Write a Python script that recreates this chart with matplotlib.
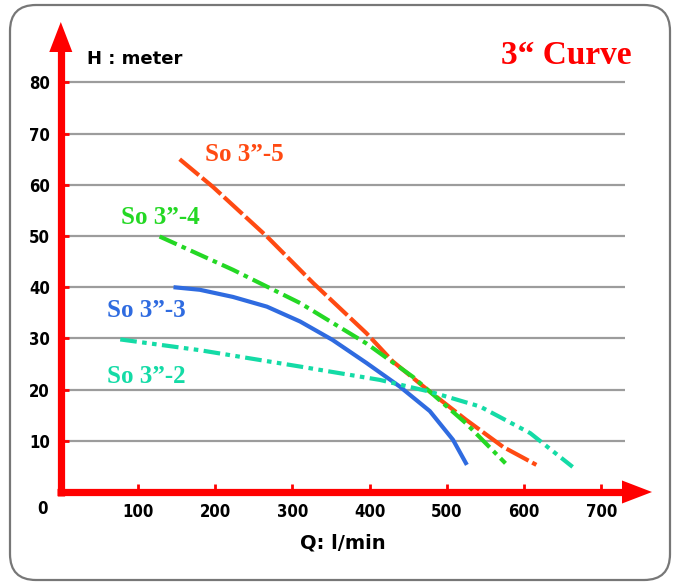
import matplotlib
matplotlib.use("Agg")
import matplotlib.pyplot as plt
from matplotlib.patches import FancyBboxPatch, FancyArrowPatch
from matplotlib.transforms import IdentityTransform

# ---------------- data ----------------
series_names = ["So 3\u201d-5", "So 3\u201d-4", "So 3\u201d-3", "So 3\u201d-2"]

q_so5 = [154, 197, 267, 327, 396, 430, 478, 525, 573, 616]
h_so5 = [65.0, 59.6, 49.9, 40.8, 31.0, 25.5, 19.6, 14.1, 8.8, 5.3]

q_so4 = [128, 223, 310, 396, 456, 478, 525, 576]
h_so4 = [49.9, 43.4, 36.9, 29.0, 22.5, 19.6, 13.4, 5.6]

q_so3 = [146, 180, 223, 267, 310, 352, 396, 439, 478, 508, 526]
h_so3 = [40.0, 39.5, 38.1, 36.2, 33.3, 29.7, 25.2, 20.6, 15.8, 10.2, 5.3]

q_so2 = [77, 180, 310, 413, 478, 543, 608, 663]
h_so2 = [29.8, 27.7, 24.5, 21.9, 19.6, 16.7, 11.5, 4.9]

x_ticks = [100, 200, 300, 400, 500, 600, 700]
y_ticks = [10, 20, 30, 40, 50, 60, 70, 80]

title_text = "3\u201c Curve"
y_title = "H : meter"
x_title = "Q: l/min"

# ---------------- styles / layout ----------------
colors = ["#ff4a12", "#24d824", "#2f6be0", "#14dba6"]
dash_styles = [(0, (6, 1.0)),
               (0, (4.5, 1.3, 1.1, 1.3)),
               "solid",
               (0, (4.0, 1.3, 1.1, 1.3, 1.1, 1.3))]
label_pos = [(187, 66.0), (77.5, 53.7), (59.5, 35.5), (60, 22.5)]

W, H = 675, 585
fig = plt.figure(figsize=(W / 100, H / 100), dpi=100)

# rounded border
border = FancyBboxPatch((10, 5), 660, 575, boxstyle="round,pad=0,rounding_size=26",
                        transform=IdentityTransform(), facecolor="none",
                        edgecolor="#777777", linewidth=1.6, zorder=-1)
fig.patches.append(border)

x0_px, y0_px = 60.8, 492.0
px_per_q, px_per_h = 0.772, 5.12
xmax = (652 - x0_px) / px_per_q
ymax = (y0_px - 22) / px_per_h
ax = fig.add_axes([x0_px / W, (H - y0_px) / H, (652 - x0_px) / W, (y0_px - 22) / H])
ax.set_xlim(0, xmax)
ax.set_ylim(0, ymax)
ax.patch.set_visible(False)
for s in ax.spines.values():
    s.set_visible(False)

# grid lines
ax.hlines(y_ticks, (65 - x0_px) / px_per_q, (625 - x0_px) / px_per_q,
          color="#9c9c9c", linewidth=1.6, zorder=1)

# curves
all_q = [q_so5, q_so4, q_so3, q_so2]
all_h = [h_so5, h_so4, h_so3, h_so2]
for q, h, c, ls in zip(all_q, all_h, colors, dash_styles):
    ax.plot(q, h, color=c, linewidth=3.0, linestyle=ls,
            dash_capstyle="butt", solid_capstyle="butt", zorder=3)

for name, c, (lx, ly) in zip(series_names, colors, label_pos):
    ax.text(lx, ly, name, color=c, fontsize=18, fontweight="bold",
            family=["Liberation Serif", "DejaVu Serif"], ha="left", va="center", zorder=4)

# red axes: shafts + filled heads
red = "#ff0000"
head_base_y = (y0_px - 52) / px_per_h
head_base_x = (622 - x0_px) / px_per_q
ax.plot([0, 0], [-0.7, head_base_y + 0.5], color=red, linewidth=5.2,
        solid_capstyle="butt", clip_on=False, zorder=5)
ax.plot([-5.0, head_base_x + 1], [0, 0], color=red, linewidth=5.2,
        solid_capstyle="butt", clip_on=False, zorder=5)
ax.add_patch(FancyArrowPatch((0, head_base_y - 2), (0, ymax),
                             arrowstyle="-|>,head_length=21.6,head_width=8.3",
                             mutation_scale=1, color=red, linewidth=0, shrinkA=0, shrinkB=0,
                             clip_on=False, zorder=5))
ax.add_patch(FancyArrowPatch((head_base_x - 10, 0), (xmax, 0),
                             arrowstyle="-|>,head_length=21.6,head_width=8.3",
                             mutation_scale=1, color=red, linewidth=0, shrinkA=0, shrinkB=0,
                             clip_on=False, zorder=5))

tick_font = dict(family=["DejaVu Sans"], weight="bold", size=12, stretch="condensed")
ax.set_xticks(x_ticks)
ax.set_xticklabels([str(v) for v in x_ticks], fontdict=tick_font)
ax.set_yticks(y_ticks)
ax.set_yticklabels([str(v) for v in y_ticks], fontdict=tick_font)
ax.tick_params(axis="x", direction="in", length=6, width=2, color=red, pad=8)
ax.tick_params(axis="y", direction="in", length=6, width=2, color=red, pad=8)
ax.text(-23.5, -3.3, "0", ha="center", va="center", fontdict=tick_font, clip_on=False)

# titles
ax.text((86.7 - x0_px) / px_per_q, (y0_px - 59) / px_per_h, y_title, fontsize=13,
        fontweight="bold", family="DejaVu Sans", ha="left", va="center")
ax.text((632 - x0_px) / px_per_q, (y0_px - 55) / px_per_h, title_text, fontsize=24,
        fontweight="bold", color=red, family=["Liberation Serif", "DejaVu Serif"],
        ha="right", va="center")
ax.text((342.5 - x0_px) / px_per_q, (y0_px - 543) / px_per_h, x_title, fontsize=14,
        fontweight="bold", family="DejaVu Sans", ha="center", va="center", clip_on=False)

fig.savefig("out.png", dpi=100)
